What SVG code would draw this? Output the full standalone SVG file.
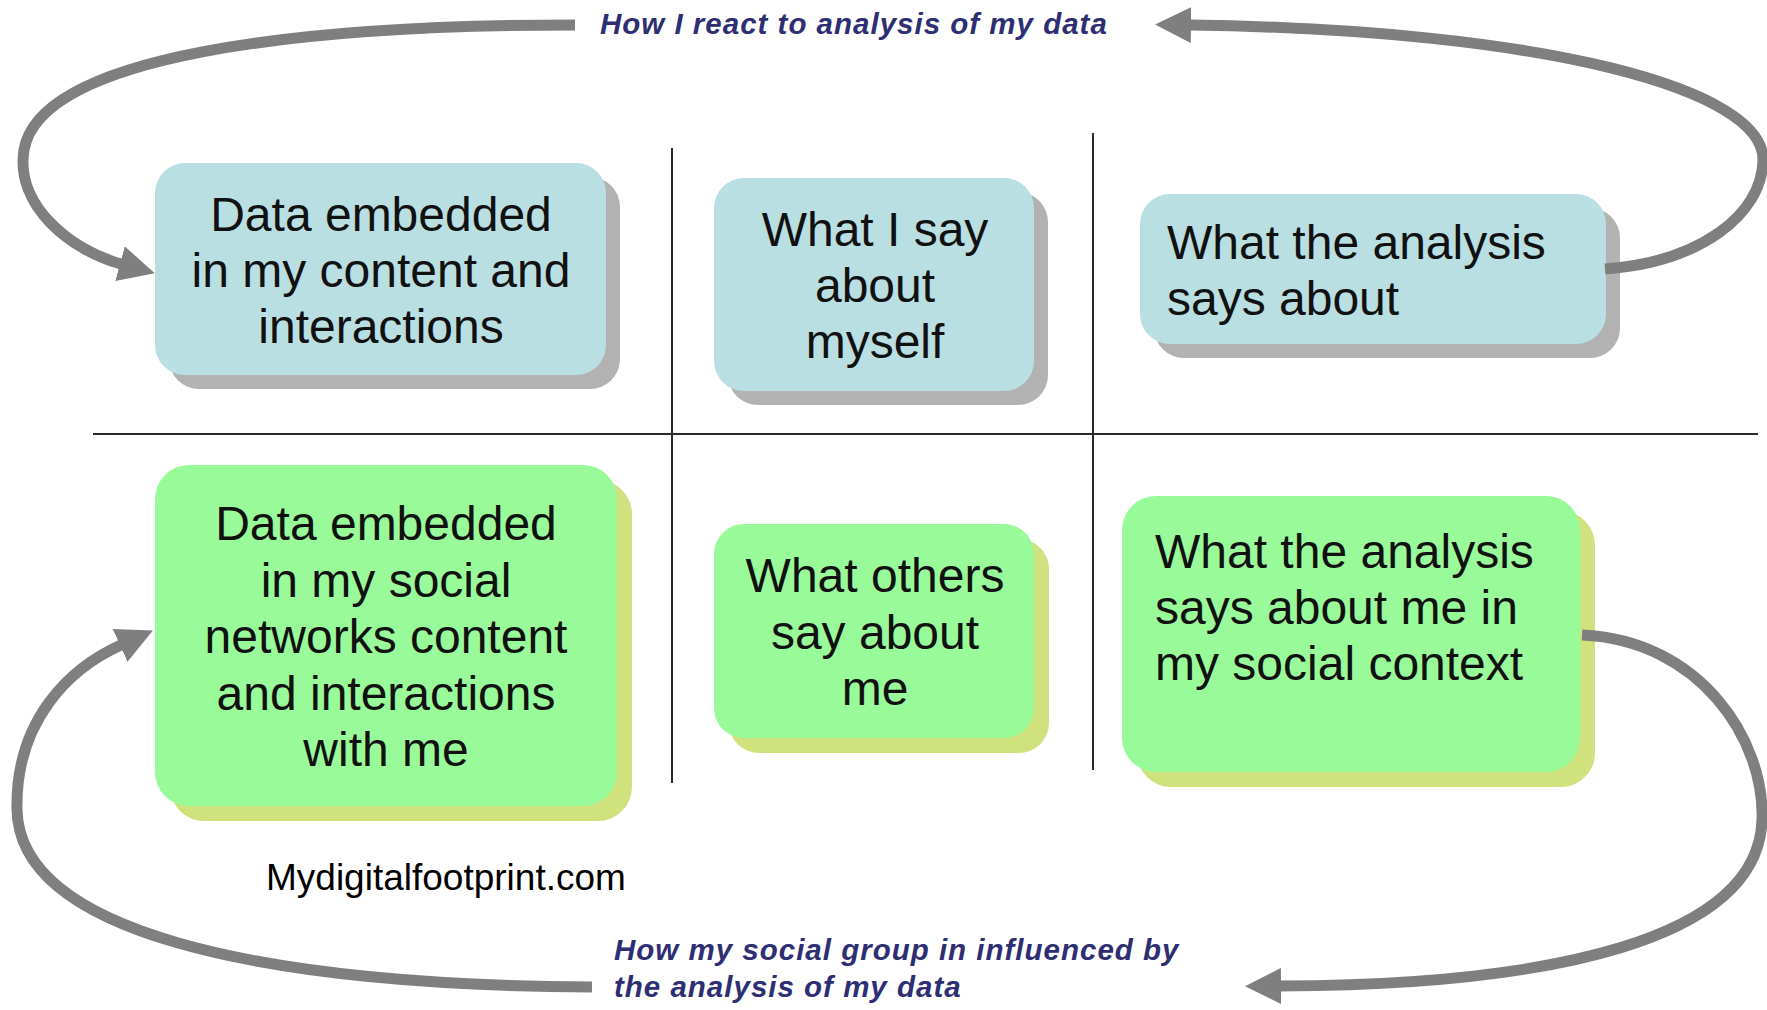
<svg xmlns="http://www.w3.org/2000/svg" width="1767" height="1010" viewBox="0 0 1767 1010">
<style>
  .bg { fill: #ffffff; }
  .blue { fill: #b9dfe2; }
  .blue-sh { fill: #b2b2b2; }
  .green { fill: #98fa98; }
  .green-sh { fill: #cfe27e; }
  .t { font-family: "Liberation Sans", Arial, sans-serif; font-size: 48px; fill: #111111; }
  .c { text-anchor: middle; }
  .lbl { font-family: "Liberation Sans", Arial, sans-serif; font-size: 29.5px; font-weight: bold; font-style: italic; fill: #2e2e72; letter-spacing: 1px; }
  .wm { font-family: "Liberation Sans", Arial, sans-serif; font-size: 37px; fill: #000000; }
  .grid { stroke: #2a2a2a; stroke-width: 2; fill: none; }
  .arrow { stroke: #7f7f7f; stroke-width: 11; fill: none; marker-end: url(#head); }
</style>
<defs>
  <marker id="head" viewBox="0 0 36 36" refX="1" refY="18" markerWidth="36" markerHeight="36" markerUnits="userSpaceOnUse" orient="auto">
    <path d="M0,0 L36,18 L0,36 Z" fill="#7f7f7f"/>
  </marker>
</defs>
<rect class="bg" x="0" y="0" width="1767" height="1010"/>

<g id="grid">
  <line class="grid" x1="93" y1="434" x2="1758" y2="434"/>
  <line class="grid" x1="672" y1="148" x2="672" y2="783"/>
  <line class="grid" x1="1093" y1="133" x2="1093" y2="770"/>
</g>

<g id="node-content">
  <rect class="blue-sh" x="169" y="177" width="451" height="212" rx="30"/>
  <rect class="blue" x="155" y="163" width="451" height="212" rx="30"/>
  <text class="t c" x="381" y="231">Data embedded</text>
  <text class="t c" x="381" y="287">in my content and</text>
  <text class="t c" x="381" y="343">interactions</text>
</g>

<g id="node-say">
  <rect class="blue-sh" x="728" y="192" width="320" height="213" rx="30"/>
  <rect class="blue" x="714" y="178" width="320" height="213" rx="30"/>
  <text class="t c" x="875" y="246">What I say</text>
  <text class="t c" x="875" y="302">about</text>
  <text class="t c" x="875" y="358">myself</text>
</g>

<g id="node-analysis">
  <rect class="blue-sh" x="1154" y="208" width="466" height="150" rx="30"/>
  <rect class="blue" x="1140" y="194" width="466" height="150" rx="30"/>
  <text class="t" x="1167" y="259">What the analysis</text>
  <text class="t" x="1167" y="315">says about</text>
</g>

<g id="node-social">
  <rect class="green-sh" x="170" y="480" width="462" height="341" rx="34"/>
  <rect class="green" x="155" y="465" width="462" height="341" rx="34"/>
  <text class="t c" x="386" y="540">Data embedded</text>
  <text class="t c" x="386" y="597">in my social</text>
  <text class="t c" x="386" y="653">networks content</text>
  <text class="t c" x="386" y="710">and interactions</text>
  <text class="t c" x="386" y="766">with me</text>
</g>

<g id="node-others">
  <rect class="green-sh" x="729" y="539" width="320" height="214" rx="30"/>
  <rect class="green" x="714" y="524" width="320" height="214" rx="30"/>
  <text class="t c" x="875" y="592">What others</text>
  <text class="t c" x="875" y="649">say about</text>
  <text class="t c" x="875" y="705">me</text>
</g>

<g id="node-social-analysis">
  <rect class="green-sh" x="1137" y="511" width="458" height="276" rx="34"/>
  <rect class="green" x="1122" y="496" width="458" height="276" rx="34"/>
  <text class="t" x="1155" y="568">What the analysis</text>
  <text class="t" x="1155" y="624">says about me in</text>
  <text class="t" x="1155" y="680">my social context</text>
</g>

<g id="connectors">
  <path class="arrow" d="M575,25 C300,25 40,55 24,150 C15,205 70,250 121,264"/>
  <path class="arrow" d="M1605,269 C1700,262 1762,215 1763,160 C1764,90 1550,30 1190,25"/>
  <path class="arrow" d="M592,987 C250,985 20,930 17,810 C15,720 70,668 121,645"/>
  <path class="arrow" d="M1582,635 C1700,640 1765,740 1762,820 C1758,940 1550,985 1280,986"/>
</g>

<g id="labels">
  <text class="lbl" x="600" y="34">How I react to analysis of my data</text>
  <text class="lbl" x="614" y="960">How my social group in influenced by</text>
  <text class="lbl" x="614" y="997">the analysis of my data</text>
  <text class="wm" x="266" y="890">Mydigitalfootprint.com</text>
</g>
</svg>
